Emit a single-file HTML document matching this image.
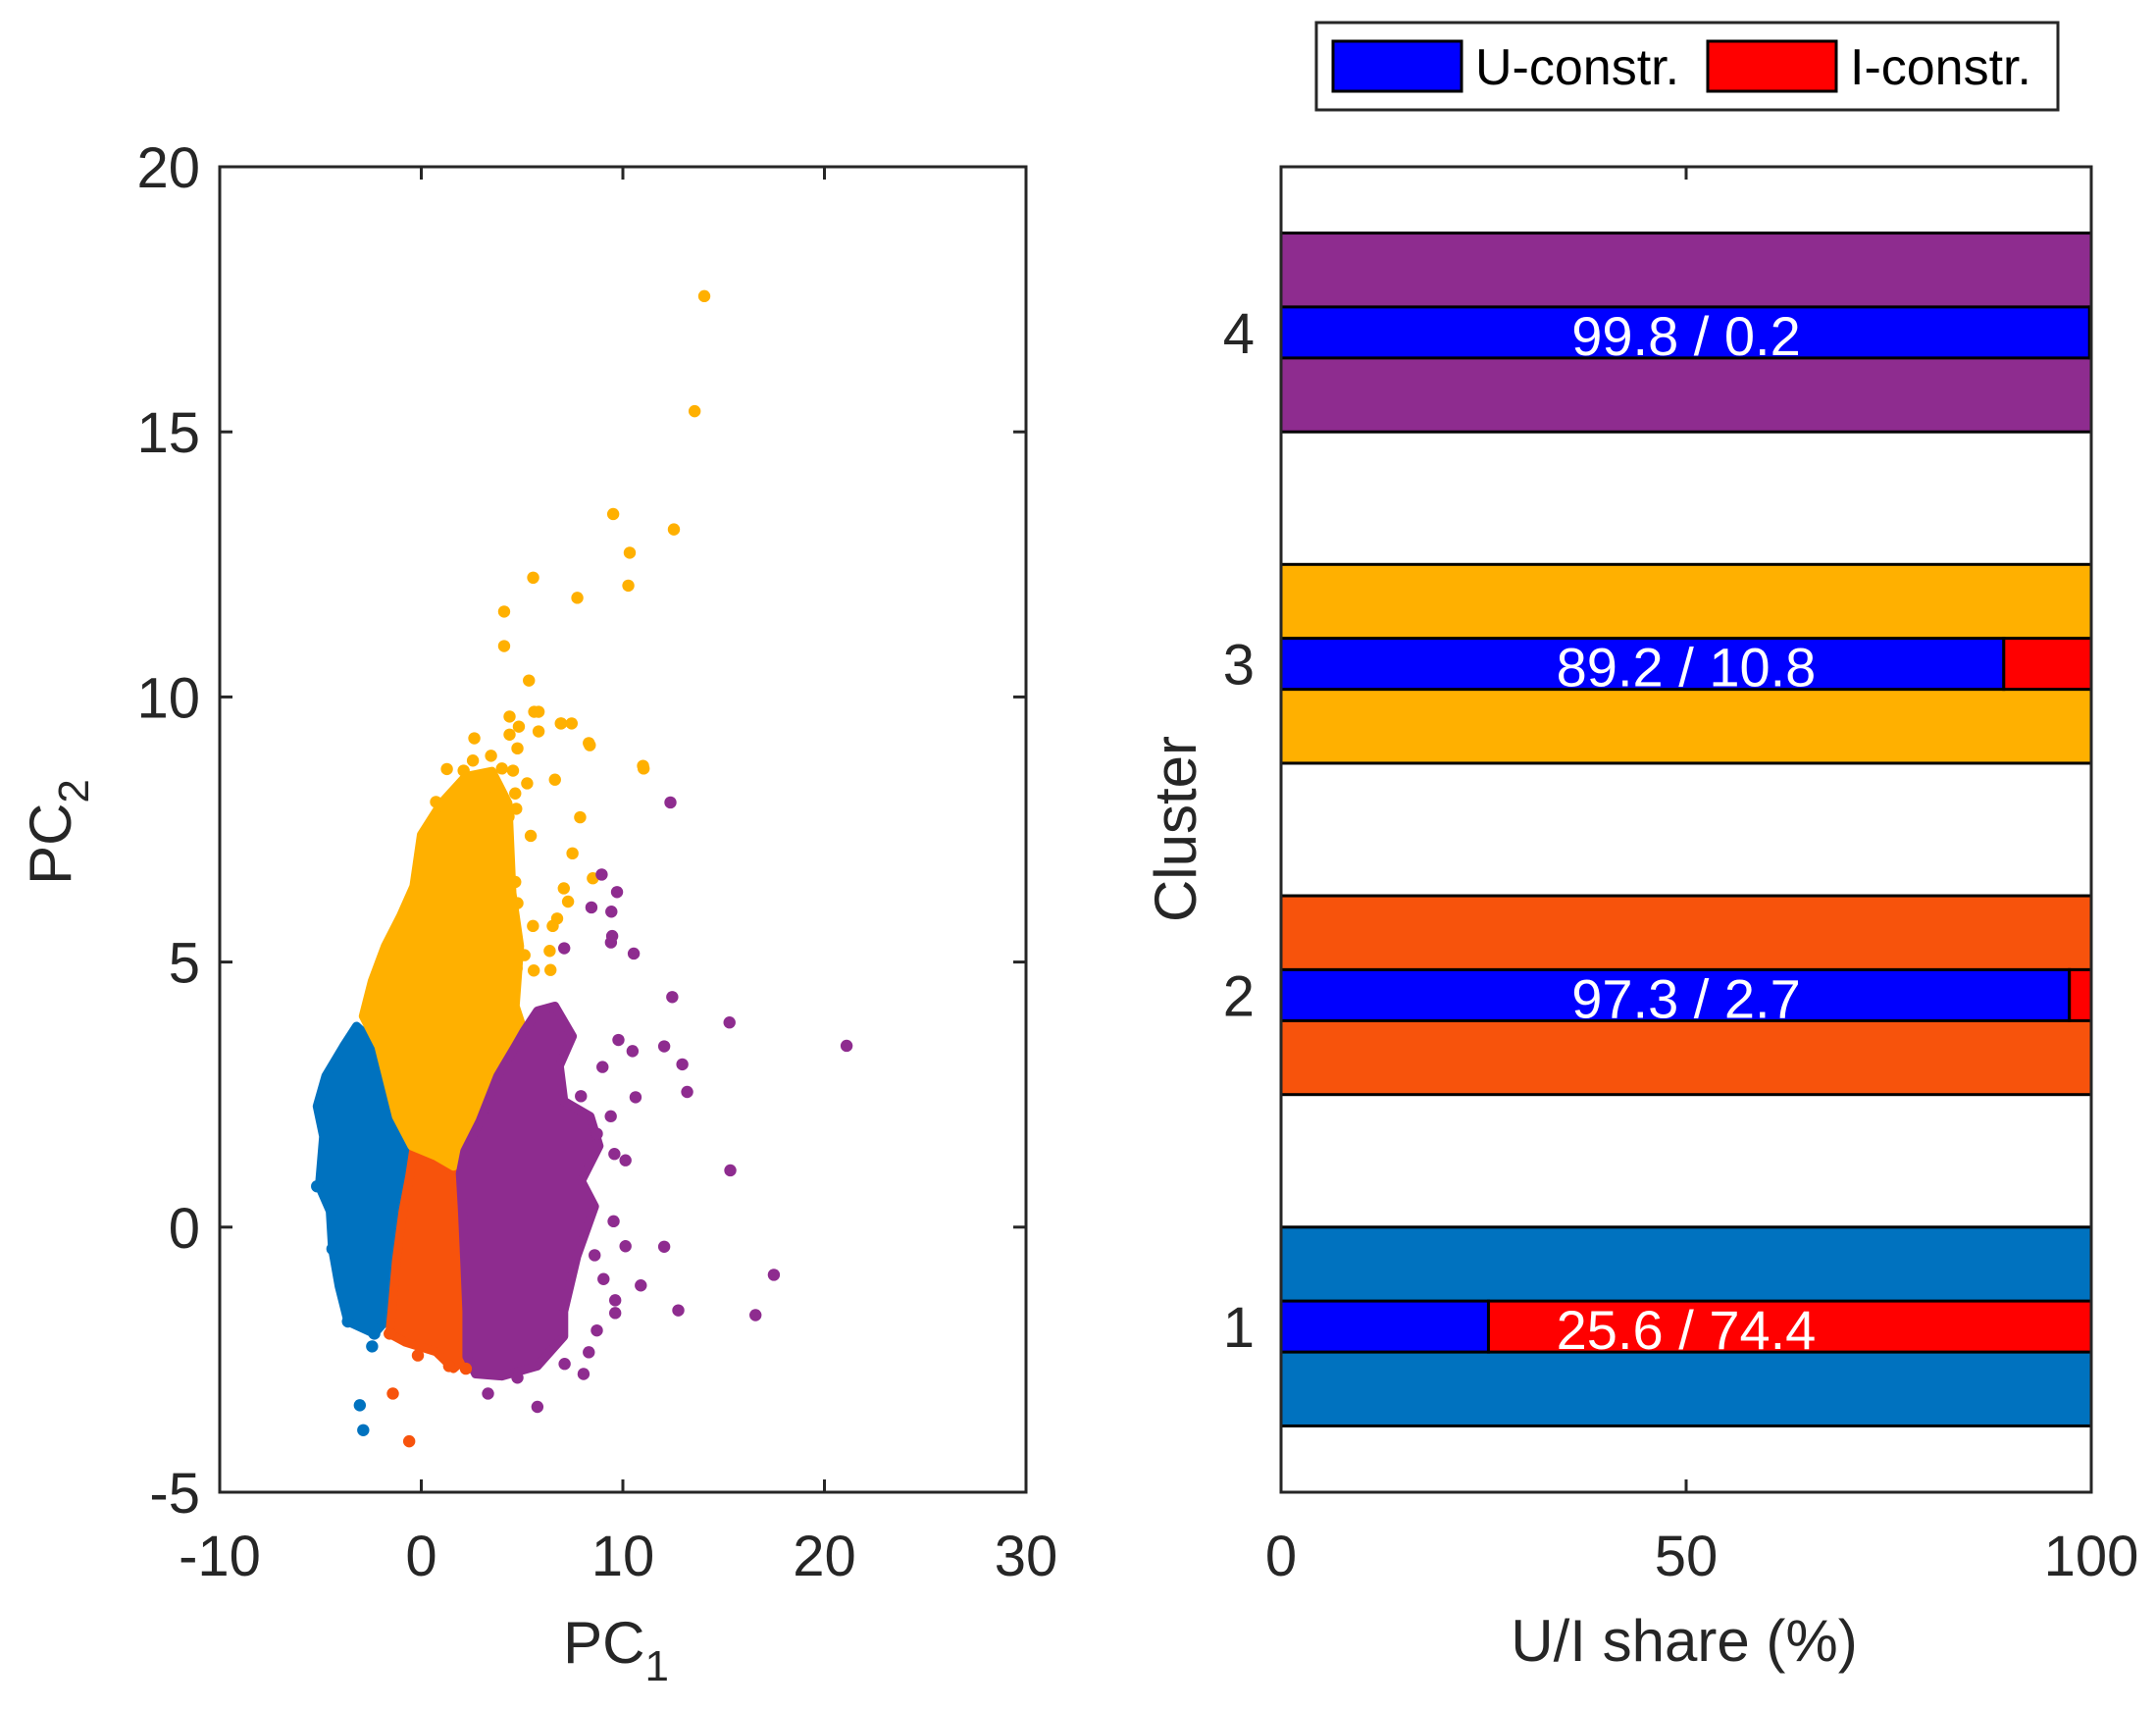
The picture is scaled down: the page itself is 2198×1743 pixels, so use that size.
<!DOCTYPE html>
<html><head><meta charset="utf-8"><style>
html,body{margin:0;padding:0;background:#fff;}
svg{display:block;font-family:"Liberation Sans",Arial,sans-serif;}
</style></head><body>
<svg id="fig" width="2198" height="1743" viewBox="0 0 2198 1743" xmlns="http://www.w3.org/2000/svg">
<rect width="2198" height="1743" fill="#fff"/>
<g id="scatter"></g>
<g id="bars"></g>
</svg>
<script>
// ---------- Scatter data (PC1, PC2) ----------
const clusterColors = ["#0072BF", "#F7530C", "#FFB000", "#8E2C8F"];
const blueRegionX = [-3.21,-2.11,-1.46,-1.02,-0.47,-0.58,-1.02,-1.24,-1.57,-2.33,-3.64,-4.08,-4.41,-4.52,-5.06,-4.85,-5.17,-4.74,-3.86];
const blueRegionY = [3.79,3.41,2.66,2.19,1.53,0.77,-0.17,-1.12,-1.68,-2.01,-1.78,-1.12,-0.41,0.30,0.77,1.71,2.28,2.85,3.41];
const redRegionX = [-0.37,0.51,1.27,1.93,2.04,2.15,2.26,2.26,1.60,0.73,-0.80,-1.57,-1.46,-1.24,-0.91,-0.58];
const redRegionY = [1.48,1.43,1.15,1.01,0.30,-0.64,-1.59,-2.44,-2.67,-2.35,-2.17,-2.01,-1.59,-0.64,0.30,0.96];
const yellowRegionX = [1.60,0.73,-0.47,-1.24,-2.11,-2.88,-2.44,-1.79,-1.02,-0.37,0.0,1.0,2.2,3.5,4.3,4.5,4.88,4.66,4.99,4.66,3.57,2.69,2.04];
const yellowRegionY = [1.15,1.34,1.53,2.09,3.41,3.98,4.64,5.30,5.87,6.43,7.4,8.0,8.5,8.6,8.0,6.3,5.30,4.17,3.79,3.41,2.66,1.90,1.43];
const purpleRegionX = [1.93,2.15,2.91,3.79,4.66,5.10,5.76,6.63,7.50,6.85,7.07,8.38,8.82,7.94,8.60,7.72,7.07,7.07,5.76,4.0,2.69,2.26,2.26,2.15,2.04];
const purpleRegionY = [1.01,1.43,2.0,2.85,3.41,3.70,4.08,4.17,3.60,3.04,2.38,2.09,1.53,0.87,0.39,-0.55,-1.59,-2.06,-2.62,-2.81,-2.77,-2.44,-1.59,-0.64,0.30];

const bluePtsX = [-2.44,-3.05,-2.88,-5.17,-4.41,-2.33,-3.64];
const bluePtsY = [-2.25,-3.36,-3.83,0.77,-0.41,-2.01,-1.78];
const redPtsX = [-1.41,-0.60,-0.17,2.21,1.38,-1.57];
const redPtsY = [-3.14,-4.04,-2.42,-2.67,-2.62,-2.01];
const yellowPtsX = [4.38,5.60,4.84,5.82,6.94,7.46,8.31,2.63,4.38,4.77,3.46,2.56,1.27,2.10,4.0,4.55,6.63,5.25,11.0,2.32,3.24,4.66,0.73,3.53,1.93,4.71,4.33,7.88,0.55,3.35,3.90,0.07,5.43,2.04,7.50,3.07,3.57,4.0,4.66,8.51,7.07,7.28,4.77,6.74,5.54,6.52,6.37,5.12,4.73,5.58,6.41,14.04,13.56,9.52,12.53,10.34,5.55,10.27,7.74,4.11,4.11,5.34,5.82,11.03,8.36,6.92];
const yellowPtsY = [9.63,9.72,9.44,9.35,9.50,9.50,9.13,9.22,9.29,9.03,8.89,8.80,8.64,8.61,8.65,8.61,8.44,8.37,8.70,8.27,8.28,8.18,8.02,8.04,7.90,7.89,7.74,7.73,7.62,7.71,7.57,7.25,7.38,7.47,7.05,6.97,6.83,6.64,6.51,6.58,6.39,6.14,6.11,5.82,5.68,5.68,5.21,5.13,4.88,4.84,4.85,17.56,15.39,13.45,13.16,12.72,12.25,12.10,11.87,11.61,10.96,10.31,9.72,8.65,9.09,9.5];
const purplePtsX = [12.36,8.95,9.71,8.44,9.43,9.47,9.41,10.54,7.09,12.45,15.29,21.1,12.05,10.48,9.78,12.95,13.19,10.63,8.99,9.40,7.92,8.71,9.58,10.13,15.33,9.54,10.13,12.05,17.49,10.89,12.75,16.58,9.62,9.62,8.71,8.31,8.05,5.76,3.31,4.77,7.11,8.6,9.04];
const purplePtsY = [8.01,6.65,6.32,6.03,5.95,5.49,5.37,5.16,5.26,4.34,3.86,3.42,3.41,3.32,3.53,3.07,2.55,2.45,3.02,2.09,2.47,1.76,1.38,1.26,1.07,0.11,-0.36,-0.37,-0.90,-1.10,-1.57,-1.66,-1.38,-1.62,-1.95,-2.36,-2.77,-3.39,-3.14,-2.84,-2.58,-0.53,-0.98];

const xTicksL = [-10,0,10,20,30];
const yTicksL = [-5,0,5,10,15,20];

// ---------- Bar data ----------
const clusters = [1,2,3,4];
const uShare = [25.6,97.3,89.2,99.8];
const iShare = [74.4,2.7,10.8,0.2];
const xTicksR = [0,50,100];

const NS = "http://www.w3.org/2000/svg";
function mk(parent, tag, attrs){ const e=document.createElementNS(NS,tag); for(const k in attrs) e.setAttribute(k,attrs[k]); parent.appendChild(e); return e; }
const AX = "#262626";

// ---- Scatter axes ----
const L = {x0:224, x1:1046, y0:1521, y1:170, xmin:-10, xmax:30, ymin:-5, ymax:20};
const sx = v => L.x0 + (v-L.xmin)/(L.xmax-L.xmin)*(L.x1-L.x0);
const sy = v => L.y0 - (v-L.ymin)/(L.ymax-L.ymin)*(L.y0-L.y1);
const sc = document.getElementById('scatter');

const regions = [[blueRegionX,blueRegionY],[redRegionX,redRegionY],[yellowRegionX,yellowRegionY],[purpleRegionX,purpleRegionY]];
const regionNames = ['cluster-1-region','cluster-2-region','cluster-3-region','cluster-4-region'];
regions.forEach((r,i)=>{
  const pts = r[0].map((x,j)=>sx(x).toFixed(1)+','+sy(r[1][j]).toFixed(1)).join(' ');
  const p = mk(sc,'polygon',{points:pts, fill:clusterColors[i], stroke:clusterColors[i], 'stroke-width':9, 'stroke-linejoin':'round'});
  
  
});
const ptSets = [[bluePtsX,bluePtsY],[redPtsX,redPtsY],[yellowPtsX,yellowPtsY],[purplePtsX,purplePtsY]];
ptSets.forEach((s,i)=>{
  s[0].forEach((x,j)=>{
    const c = mk(sc,'circle',{cx:sx(x), cy:sy(s[1][j]), r:6.2, fill:clusterColors[i]});
    
    
  });
});
// box
const boxL = mk(sc,'rect',{x:L.x0,y:L.y1,width:L.x1-L.x0,height:L.y0-L.y1,fill:'none',stroke:AX,'stroke-width':3});


xTicksL.forEach(v=>{
  const X=sx(v);
  mk(sc,'line',{x1:X,y1:L.y0,x2:X,y2:L.y0-13,stroke:AX,'stroke-width':3});
  mk(sc,'line',{x1:X,y1:L.y1,x2:X,y2:L.y1+13,stroke:AX,'stroke-width':3});
  const t=mk(sc,'text',{x:X,y:L.y0+85,'font-size':58,'text-anchor':'middle',fill:AX});
  t.textContent=v;
  
  
});
yTicksL.forEach(v=>{
  const Y=sy(v);
  mk(sc,'line',{x1:L.x0,y1:Y,x2:L.x0+13,y2:Y,stroke:AX,'stroke-width':3});
  mk(sc,'line',{x1:L.x1,y1:Y,x2:L.x1-13,y2:Y,stroke:AX,'stroke-width':3});
  const t=mk(sc,'text',{x:L.x0-20,y:Y+21,'font-size':58,'text-anchor':'end',fill:AX});
  t.textContent=v;
  
  
});
const xt=mk(sc,'text',{x:628,y:1695,'font-size':60,'text-anchor':'middle',fill:AX});
xt.innerHTML='PC<tspan font-size="44" dy="18">1</tspan>';


const yt=mk(sc,'text',{x:0,y:0,'font-size':60,'text-anchor':'middle',fill:AX,transform:'translate(72,848) rotate(-90)'});
yt.innerHTML='PC<tspan font-size="44" dy="18">2</tspan>';



// ---- Bar axes ----
const R = {x0:1306, x1:2132, y0:1521, y1:170, xmin:0, xmax:100, ymin:0.5, ymax:4.5};
const bx = v => R.x0 + (v-R.xmin)/(R.xmax-R.xmin)*(R.x1-R.x0);
const by = v => R.y0 - (v-R.ymin)/(R.ymax-R.ymin)*(R.y0-R.y1);
const bg = document.getElementById('bars');
const outerH = 0.3, innerH = 0.077;
clusters.forEach((c,i)=>{
  const o = mk(bg,'rect',{x:bx(0),y:by(c+outerH),width:bx(100)-bx(0),height:by(c-outerH)-by(c+outerH),fill:clusterColors[i],stroke:'#000','stroke-width':3});
  
  
  const u = mk(bg,'rect',{x:bx(0),y:by(c+innerH),width:bx(uShare[i])-bx(0),height:by(c-innerH)-by(c+innerH),fill:'#0000FF',stroke:'#000','stroke-width':3});
  
  
  const r = mk(bg,'rect',{x:bx(uShare[i]),y:by(c+innerH),width:bx(uShare[i]+iShare[i])-bx(uShare[i]),height:by(c-innerH)-by(c+innerH),fill:'#FF0000',stroke:'#000','stroke-width':3});
  
  
  const t = mk(bg,'text',{x:bx(50),y:by(c-innerH)-3,'font-size':56,'text-anchor':'middle',fill:'#fff'});
  t.textContent = uShare[i].toFixed(1)+' / '+iShare[i].toFixed(1);
  
  
  const yl = mk(bg,'text',{x:R.x0-27,y:by(c)+21,'font-size':58,'text-anchor':'end',fill:AX});
  yl.textContent = c;
  
  
});
const boxR = mk(bg,'rect',{x:R.x0,y:R.y1,width:R.x1-R.x0,height:R.y0-R.y1,fill:'none',stroke:AX,'stroke-width':3});


xTicksR.forEach(v=>{
  const X=bx(v);
  mk(bg,'line',{x1:X,y1:R.y0,x2:X,y2:R.y0-13,stroke:AX,'stroke-width':3});
  mk(bg,'line',{x1:X,y1:R.y1,x2:X,y2:R.y1+13,stroke:AX,'stroke-width':3});
  const t=mk(bg,'text',{x:X,y:R.y0+85,'font-size':58,'text-anchor':'middle',fill:AX});
  t.textContent=v;
  
  
});
const bxt=mk(bg,'text',{x:1717,y:1693,'font-size':60,'text-anchor':'middle',fill:AX});
bxt.textContent='U/I share (%)';


const byt=mk(bg,'text',{x:0,y:0,'font-size':60,'text-anchor':'middle',fill:AX,transform:'translate(1219,845) rotate(-90)'});
byt.textContent='Cluster';



// legend
const lg = mk(bg,'g',{});


mk(lg,'rect',{x:1342,y:23,width:756,height:89,fill:'#fff',stroke:AX,'stroke-width':3});
const lu = mk(lg,'rect',{x:1359,y:42,width:131,height:51,fill:'#0000FF',stroke:'#000','stroke-width':3});


const lut = mk(lg,'text',{x:1504,y:86,'font-size':52,fill:'#000'});
lut.textContent='U-constr.';


const li = mk(lg,'rect',{x:1741,y:42,width:131,height:51,fill:'#FF0000',stroke:'#000','stroke-width':3});


const lit = mk(lg,'text',{x:1886,y:86,'font-size':52,fill:'#000'});
lit.textContent='I-constr.';


</script>
</body></html>
